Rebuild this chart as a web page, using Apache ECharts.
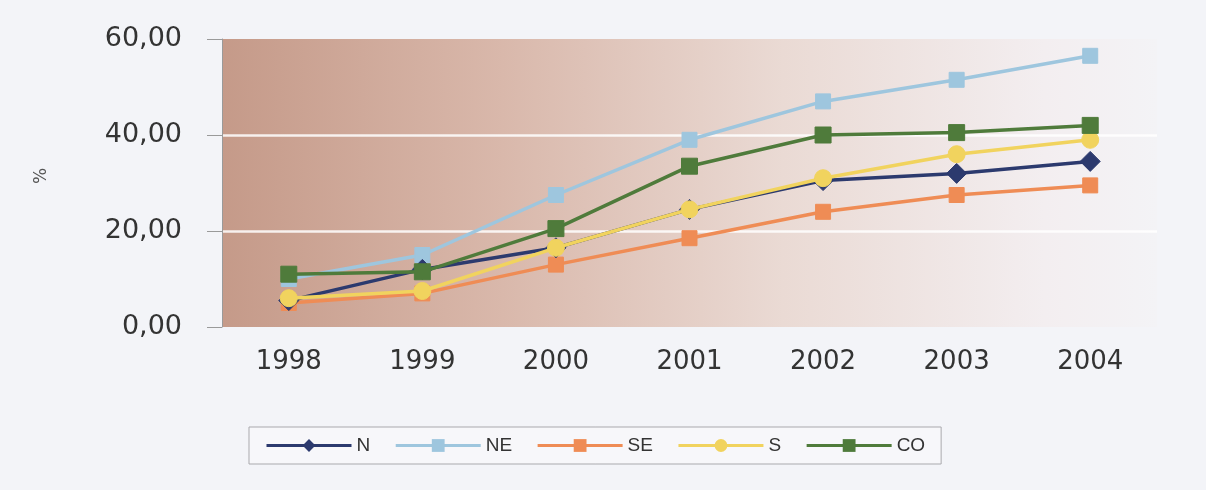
<!DOCTYPE html>
<html>
<head>
<meta charset="utf-8">
<script src="https://cdn.jsdelivr.net/npm/echarts@6/dist/echarts.min.js"></script>
<style>
  html, body { margin: 0; padding: 0; background: #f3f4f8; }
  #chart { width: 1206px; height: 490px; }
</style>
</head>
<body>
<div id="chart"></div>
<script>
// Years on the category axis
const years = ['1998', '1999', '2000', '2001', '2002', '2003', '2004'];

// Share (%) per region
const seriesN  = [5.5, 12.0, 16.5, 24.5, 30.5, 32.0, 34.5];
const seriesNE = [10.0, 15.0, 27.5, 39.0, 47.0, 51.5, 56.5];
const seriesSE = [5.0, 7.0, 13.0, 18.5, 24.0, 27.5, 29.5];
const seriesS  = [6.0, 7.5, 16.5, 24.5, 31.0, 36.0, 39.0];
const seriesCO = [11.0, 11.5, 20.5, 33.5, 40.0, 40.5, 42.0];

const chart = echarts.init(document.getElementById('chart'), null, { renderer: 'canvas' });

function lineSeries(name, data, color, symbol, size, z) {
  return {
    name: name,
    type: 'line',
    data: data,
    symbol: symbol,
    symbolSize: size,
    z: z,
    lineStyle: { color: color, width: 3.5 },
    itemStyle: { color: color, borderColor: color },
    emphasis: { disabled: true }
  };
}

chart.setOption({
  backgroundColor: '#f3f4f8',
  animation: false,
  textStyle: { fontFamily: 'DejaVu Sans, Arial, sans-serif' },
  grid: {
    left: 222, right: 49, top: 39, bottom: 163,
    show: true,
    borderWidth: 0,
    backgroundColor: {
      type: 'linear', x: 0, y: 0, x2: 1, y2: 0,
      colorStops: [
        { offset: 0, color: '#c59a89' },
        { offset: 0.3, color: '#d9b8ab' },
        { offset: 0.6, color: '#eadad4' },
        { offset: 0.88, color: '#f3eef0' },
        { offset: 1, color: '#f3f3f6' }
      ]
    }
  },
  legend: {
    left: 249, top: 427,
    padding: [9, 16],
    itemWidth: 85, itemHeight: 16, itemGap: 24,
    borderColor: '#a9a9ad', borderWidth: 1,
    backgroundColor: '#f7f7fa',
    lineStyle: { width: 3 },
    textStyle: { fontSize: 19, color: '#333', fontFamily: 'Liberation Sans, Arial, sans-serif' },
    data: ['N', 'NE', 'SE', 'S', 'CO']
  },
  xAxis: {
    type: 'category',
    data: years,
    boundaryGap: true,
    axisLine: { show: false },
    axisTick: { show: false },
    axisLabel: { fontSize: 26, color: '#333', margin: 22 }
  },
  yAxis: {
    type: 'value',
    min: 0, max: 60, interval: 20,
    name: '%',
    nameLocation: 'middle',
    nameGap: 172,
    nameRotate: 90,
    nameTextStyle: { fontSize: 17, color: '#555', padding: [0, 0, 0, 14] },
    axisLine: { show: true, lineStyle: { color: '#9a9a9a', width: 1 } },
    axisTick: { show: true, length: 15, lineStyle: { color: '#9a9a9a' } },
    axisLabel: {
      fontSize: 27, color: '#333', margin: 40,
      formatter: v => v.toFixed(2).replace('.', ',')
    },
    splitLine: {
      show: true,
      lineStyle: { color: ['transparent', '#ffffff', '#ffffff', 'transparent'], width: 2.5, opacity: 0.85 }
    }
  },
  series: [
    lineSeries('N', seriesN, '#2c3a6e', 'diamond', 20, 3),
    lineSeries('NE', seriesNE, '#9ec6de', 'rect', 15, 2),
    lineSeries('SE', seriesSE, '#ef8c55', 'rect', 15, 2),
    lineSeries('S', seriesS, '#f1d35e', 'circle', 17, 4),
    lineSeries('CO', seriesCO, '#4f7b3b', 'rect', 16, 5)
  ]
});
</script>
</body>
</html>
